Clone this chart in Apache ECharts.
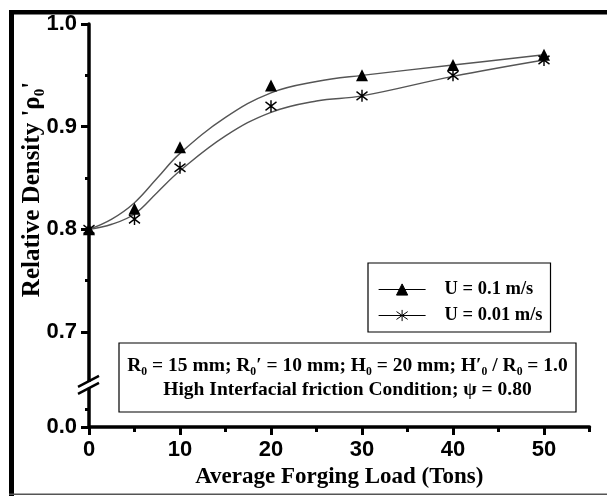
<!DOCTYPE html>
<html>
<head>
<meta charset="utf-8">
<script src="https://cdn.jsdelivr.net/npm/echarts@6/dist/echarts.min.js"></script>
<style>
html,body{margin:0;padding:0;background:#fff;}
#echarts{width:607px;height:496px;}
</style>
</head>
<body>
<div id="echarts"></div>
<script>
// 实测数据点
var loads = [0, 5, 10, 20, 30, 40, 50];
var densityFast = [0.80, 0.82, 0.88, 0.94, 0.95, 0.96, 0.97];   // U = 0.1 m/s
var densitySlow = [0.80, 0.81, 0.86, 0.92, 0.93, 0.95, 0.965];  // U = 0.01 m/s
// 拟合曲线
var fitLoads = [0, 2.5, 5, 7.5, 10, 15, 20, 25, 30, 40, 50];
var fitFast = [0.800, 0.810, 0.826, 0.850, 0.874, 0.909, 0.933, 0.944, 0.950, 0.960, 0.970];
var fitSlow = [0.800, 0.805, 0.815, 0.836, 0.857, 0.891, 0.914, 0.925, 0.930, 0.949, 0.965];
// 刻度
var xMajorTicks = [0, 10, 20, 30, 40, 50];
var xMinorTicks = [5, 15, 25, 35, 45, 55];
var yBase = 0.6075;   // 断轴下方 "0.0" 所在位置
var yMajorTicks = [yBase, 0.7, 0.8, 0.9, 1.0];
var yTickLabels = ['0.0', '0.7', '0.8', '0.9', '1.0'];
var yMinorTicks = [0.625, 0.75, 0.85, 0.95];
var yBreak = 0.6465;

var nameFast = 'U = 0.1 m/s';
var nameSlow = 'U = 0.01 m/s';
var starPath = 'path://M5,0L5,10M1.5,1.5L8.5,8.5M1.5,8.5L8.5,1.5';

function pairs(xs, ys) {
  return xs.map(function (x, i) { return [x, ys[i]]; });
}

var myChart = echarts.init(document.getElementById('echarts'));
var serif = '"Liberation Serif", "Times New Roman", serif';
var sans = '"Liberation Sans", Arial, sans-serif';

// 绘图区
var gridLeft = 89, gridTop = 24, gridRight = 17.5, gridBottom = 69;
var gridH = 496 - gridTop - gridBottom;
// 断轴标记的位置
var breakX = gridLeft;
var breakY = gridTop + (1.0 - yBreak) / (1.0 - yBase) * gridH;

var option = {
  animation: false,
  backgroundColor: '#fff',
  grid: {left: gridLeft, right: gridRight, top: gridTop, bottom: gridBottom},
  legend: {
    orient: 'vertical',
    left: 368,
    top: 263,
    padding: [17, 8, 7, 10],
    itemGap: 7,
    itemWidth: 47,
    itemHeight: 14,
    borderColor: '#000',
    borderWidth: 1.2,
    data: [nameFast, nameSlow],
    lineStyle: {color: '#000', width: 1.2},
    itemStyle: {color: '#000', borderColor: '#000', borderWidth: 1},
    textStyle: {fontFamily: serif, fontWeight: 'bold', fontSize: 18.5, color: '#000',
      lineHeight: 18, padding: [0, 0, 0, 14]}
  },
  xAxis: [
    {
      type: 'value', min: 0, max: 55,
      name: 'Average Forging Load (Tons)',
      nameLocation: 'middle', nameGap: 39, nameMoveOverlap: false,
      nameTextStyle: {fontFamily: serif, fontWeight: 'bold', fontSize: 23, color: '#000'},
      splitLine: {show: false},
      axisLine: {onZero: false, lineStyle: {color: '#000', width: 3.5}},
      axisTick: {customValues: xMajorTicks, length: 8, lineStyle: {color: '#000', width: 3}},
      axisLabel: {customValues: xMajorTicks, margin: 12, fontFamily: sans, fontWeight: 'bold', fontSize: 22, color: '#000'}
    },
    {
      type: 'value', min: 0, max: 55, position: 'bottom',
      splitLine: {show: false},
      axisLine: {show: false},
      axisTick: {customValues: xMinorTicks, length: 5, lineStyle: {color: '#000', width: 3}},
      axisLabel: {show: false}
    }
  ],
  yAxis: [
    {
      type: 'value', min: yBase, max: 1.0,
      name: "Relative Density 'ρ₀'",
      nameLocation: 'middle', nameGap: 44, nameMoveOverlap: false,
      nameTextStyle: {fontFamily: serif, fontWeight: 'bold', fontSize: 25, color: '#000', padding: [0, 0, 0, 72]},
      splitLine: {show: false},
      axisLine: {onZero: false, lineStyle: {color: '#000', width: 3.5}},
      axisTick: {customValues: yMajorTicks, length: 8, lineStyle: {color: '#000', width: 3}},
      axisLabel: {
        customValues: yMajorTicks, margin: 12,
        fontFamily: sans, fontWeight: 'bold', fontSize: 22, color: '#000',
        formatter: function (v) {
          for (var i = 0; i < yMajorTicks.length; i++) {
            if (Math.abs(yMajorTicks[i] - v) < 1e-6) return yTickLabels[i];
          }
          return '';
        }
      }
    },
    {
      type: 'value', min: yBase, max: 1.0, position: 'left',
      splitLine: {show: false},
      axisLine: {show: false},
      axisTick: {customValues: yMinorTicks, length: 4, lineStyle: {color: '#000', width: 3}},
      axisLabel: {show: false}
    }
  ],
  graphic: [
    {type: 'rect', id: 'frameLeft', shape: {x: 9, y: 10, width: 5, height: 486}, style: {fill: '#000'}, z: 100},
    {type: 'rect', id: 'frameTop', shape: {x: 9, y: 10, width: 598, height: 4.5}, style: {fill: '#000'}, z: 100},
    {type: 'rect', id: 'frameBottom', shape: {x: 9, y: 493.5, width: 598, height: 1.5}, style: {fill: '#555'}, z: 100},
    {
      type: 'group', id: 'note',
      children: [
        {type: 'rect', shape: {x: 119, y: 343, width: 457, height: 69},
          style: {fill: '#fff', stroke: '#000', lineWidth: 1.2}},
        {type: 'text', x: 347.5, y: 366,
          style: {text: 'R₀ = 15 mm; R₀′ = 10 mm; H₀ = 20 mm; H′₀ / R₀ = 1.0',
            fill: '#000', font: 'bold 19.5px ' + serif, align: 'center', verticalAlign: 'middle'}},
        {type: 'text', x: 347.5, y: 390,
          style: {text: 'High Interfacial friction Condition; ψ = 0.80',
            fill: '#000', font: 'bold 19.5px ' + serif, align: 'center', verticalAlign: 'middle'}}
      ]
    },
    // 断轴标记 "//"
    {type: 'rect', id: 'breakGap', z: 100,
      shape: {x: breakX - 3, y: breakY - 5, width: 6, height: 6}, style: {fill: '#fff'}},
    {type: 'line', id: 'breakA', z: 101,
      shape: {x1: breakX - 11, y1: breakY, x2: breakX + 10, y2: breakY - 11},
      style: {stroke: '#000', lineWidth: 2.5}},
    {type: 'line', id: 'breakB', z: 101,
      shape: {x1: breakX - 11, y1: breakY + 7, x2: breakX + 10, y2: breakY - 4},
      style: {stroke: '#000', lineWidth: 2.5}}
  ],
  series: [
    {
      name: nameFast, type: 'line', smooth: 0.4,
      symbol: 'triangle', showSymbol: false,
      lineStyle: {color: '#555', width: 1.4},
      itemStyle: {color: '#000'},
      data: pairs(fitLoads, fitFast)
    },
    {
      name: nameSlow, type: 'line', smooth: 0.4,
      symbol: starPath, showSymbol: false,
      lineStyle: {color: '#555', width: 1.4},
      itemStyle: {color: '#000', borderColor: '#000', borderWidth: 1.3},
      data: pairs(fitLoads, fitSlow)
    },
    {
      name: nameFast, type: 'scatter',
      symbol: 'triangle', symbolSize: 12,
      itemStyle: {color: '#000', opacity: 1},
      data: pairs(loads, densityFast), z: 5
    },
    {
      name: nameSlow, type: 'scatter',
      symbol: starPath, symbolSize: [11, 12],
      itemStyle: {color: '#000', borderColor: '#000', borderWidth: 1.5, opacity: 1},
      data: pairs(loads, densitySlow), z: 5
    }
  ]
};

myChart.setOption(option);
</script>
</body>
</html>
